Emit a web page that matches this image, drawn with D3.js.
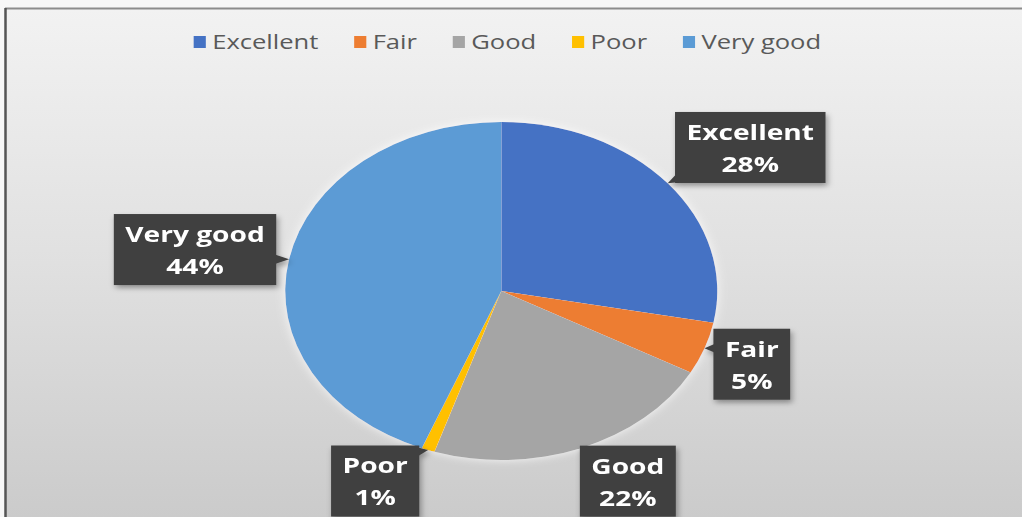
<!DOCTYPE html>
<html><head><meta charset="utf-8">
<script src="https://cdn.jsdelivr.net/npm/d3@7/dist/d3.min.js"></script>
<style>body{margin:0;background:#f7f7f7}svg{display:block}</style>
</head><body>
<svg id="chart" width="1022" height="517"></svg>
<script>
// ---- data ----
const categories = ["Excellent", "Fair", "Good", "Poor", "Very good"];
const values = [28, 5, 22, 1, 44];
const colors = ["#4472C4", "#ED7D31", "#A5A5A5", "#FFC000", "#5B9BD5"];
// callout offsets (logical units) from the slice's outer edge point
const labelOffsets = [[64.6, -35.8], [37, 16], [36.8, 33], [-41.4, 31], [-73.6, -9.8]];

// ---- layout ----
const W = 1022, H = 517;
const SX = 216 / 169;            // horizontal stretch of the original picture
const R = 169, CX = 392.2, CY = 291;

const svg = d3.select("#chart");
const defs = svg.append("defs");
const grad = defs.append("linearGradient").attr("id", "bg").attr("x1", 0).attr("y1", 0).attr("x2", 0).attr("y2", 1);
grad.append("stop").attr("offset", "0%").attr("stop-color", "#f2f2f2");
grad.append("stop").attr("offset", "50%").attr("stop-color", "#e0e0e0");
grad.append("stop").attr("offset", "100%").attr("stop-color", "#cbcbcb");
const sh = defs.append("filter").attr("id", "sh").attr("x", "-20%").attr("y", "-20%").attr("width", "150%").attr("height", "150%");
sh.append("feDropShadow").attr("dx", 1.5).attr("dy", 3).attr("stdDeviation", 2.5).attr("flood-color", "#000").attr("flood-opacity", 0.35);
const glow = defs.append("filter").attr("id", "glow").attr("x", "-10%").attr("y", "-10%").attr("width", "120%").attr("height", "120%");
glow.append("feDropShadow").attr("dx", 0).attr("dy", 0).attr("stdDeviation", 4).attr("flood-color", "#ffffff").attr("flood-opacity", 0.8);

// chart area background and frame
svg.append("rect").attr("x", 6).attr("y", 9).attr("width", W - 6).attr("height", H - 9).attr("fill", "url(#bg)");
svg.append("line").attr("x1", 5).attr("x2", W).attr("y1", 8.5).attr("y2", 8.5).attr("stroke", "#8c8c8c").attr("stroke-width", 2);
svg.append("line").attr("x1", 5.5).attr("x2", 5.5).attr("y1", 8).attr("y2", H).attr("stroke", "#555").attr("stroke-width", 2.5);

const g = svg.append("g").attr("transform", `scale(${SX},1)`);

// ---- pie ----
const pie = d3.pie().sort(null).value(d => d);
const arcs = pie(values);
const arc = d3.arc().innerRadius(0).outerRadius(R);
const pg = g.append("g").attr("transform", `translate(${CX},${CY})`).attr("filter", "url(#glow)");
pg.selectAll("path").data(arcs).join("path")
  .attr("d", arc)
  .attr("fill", (d, i) => colors[i]);

// ---- callouts ----
const total = d3.sum(values);
const fontFamily = "'Open Sans', 'Noto Sans', sans-serif";
const lg = g.append("g");
arcs.forEach((d, i) => {
  const a = (d.startAngle + d.endAngle) / 2;
  const ax = CX + R * Math.sin(a), ay = CY - R * Math.cos(a);
  const bx = ax + labelOffsets[i][0], by = ay + labelOffsets[i][1];
  const grp = lg.append("g").attr("filter", "url(#sh)");
  const t1 = grp.append("text").text(categories[i]);
  const t2 = grp.append("text").text(Math.round(values[i] / total * 100) + "%");
  [t1, t2].forEach(t => t.attr("font-family", fontFamily).attr("font-weight", 700)
    .attr("font-size", 22).attr("fill", "#fff").attr("text-anchor", "middle"));
  const tw = Math.max(t1.node().getComputedTextLength(), t2.node().getComputedTextLength());
  const bw = tw + 18, bh = 71;
  const x0 = bx - bw / 2, y0 = by - bh / 2, x1 = x0 + bw, y1 = y0 + bh;
  const px = Math.max(x0, Math.min(x1, ax)), py = Math.max(y0, Math.min(y1, ay));
  const dx = ax - px, dy = ay - py;
  let pts;
  if (Math.abs(dx) >= Math.abs(dy)) {
    const yy = Math.max(y0 + 7, Math.min(y1 - 7, ay));
    const xe = dx < 0 ? x0 + 4 : x1 - 4;
    pts = [[ax, ay], [xe, yy - 6], [xe, yy + 6]];
  } else {
    const xx = Math.max(x0 + 7, Math.min(x1 - 7, ax));
    const ye = dy < 0 ? y0 + 4 : y1 - 4;
    pts = [[ax, ay], [xx - 6, ye], [xx + 6, ye]];
  }
  grp.insert("rect", "text").attr("x", x0).attr("y", y0).attr("width", bw).attr("height", bh).attr("fill", "#404040");
  grp.insert("path", "text").attr("d", d3.line()(pts) + "Z").attr("fill", "#404040");
  t1.attr("x", bx).attr("y", y0 + 28);
  t2.attr("x", bx).attr("y", y0 + 60);
});

// ---- legend ----
const leg = g.append("g");
const sqW = 9.5, sqH = 12, gap = 5, spacing = 28, ly = 42;
const items = categories.map((c, i) => {
  const it = leg.append("g");
  it.append("rect").attr("width", sqW).attr("height", sqH).attr("y", ly - sqH / 2).attr("fill", colors[i]);
  const t = it.append("text").text(c).attr("x", sqW + gap).attr("y", ly + 7)
    .attr("font-family", fontFamily).attr("font-size", 20).attr("fill", "#595959");
  return { it, w: sqW + gap + t.node().getComputedTextLength() };
});
const totalW = d3.sum(items, d => d.w) + spacing * (items.length - 1);
let cx = 397 - totalW / 2;
items.forEach(d => { d.it.attr("transform", `translate(${cx},0)`); cx += d.w + spacing; });
</script>
</body></html>
